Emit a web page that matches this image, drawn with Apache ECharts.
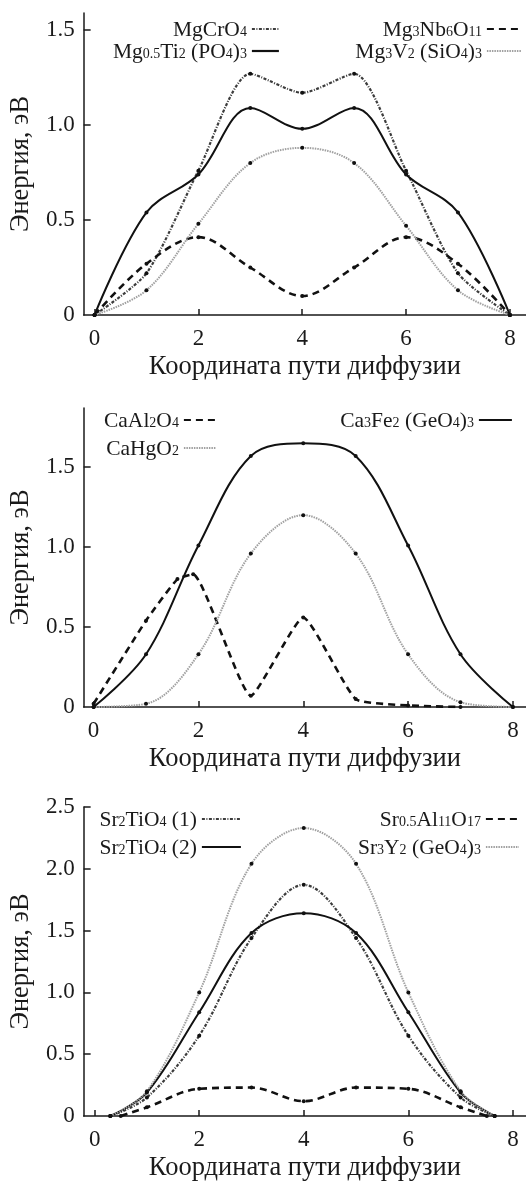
<!DOCTYPE html>
<html><head><meta charset="utf-8">
<script src="https://cdn.jsdelivr.net/npm/echarts@6/dist/echarts.min.js"></script>
<style>html,body{margin:0;padding:0;background:#fff}#c{width:526px;height:1183px}</style>
</head><body><div id="c"></div><script>
// ---- data ----
const xPath = [0, 1, 2, 3, 4, 5, 6, 7, 8];
const xTickLabels = [0, 2, 4, 6, 8];

// panel 1 (Mg)
const mgCrO4   = [0, 0.22, 0.76, 1.27, 1.17, 1.27, 0.76, 0.22, 0];
const mgTiPO4  = [0, 0.54, 0.74, 1.09, 0.98, 1.09, 0.74, 0.54, 0];
const mgNbO    = [0, 0.27, 0.41, 0.25, 0.10, 0.25, 0.41, 0.27, 0];
const mgVSiO4  = [0, 0.13, 0.48, 0.80, 0.88, 0.80, 0.47, 0.13, 0];
const yTicks1  = [0, 0.5, 1.0, 1.5];

// panel 2 (Ca)
const caFeGeO4 = [0, 0.33, 1.01, 1.57, 1.65, 1.57, 1.01, 0.33, 0];
const caHgO2   = [0, 0.02, 0.33, 0.96, 1.20, 0.96, 0.33, 0.03, 0];
const xCaAl    = [0, 1, 1.6, 1.9, 3, 4, 5, 6, 7];
const caAl2O4  = [0.02, 0.54, 0.80, 0.83, 0.07, 0.56, 0.05, 0.01, 0];
const yTicks2  = [0, 0.5, 1.0, 1.5];

// panel 3 (Sr)
const xSr      = [0.3, 1, 2, 3, 4, 5, 6, 7, 7.65];
const xSrAl    = [0.5, 1, 2, 3, 4, 5, 6, 7, 7.5];
const srTi1    = [0, 0.15, 0.65, 1.44, 1.87, 1.44, 0.65, 0.15, 0];
const srTi2    = [0, 0.19, 0.84, 1.48, 1.64, 1.48, 0.84, 0.19, 0];
const srAlO    = [0, 0.07, 0.22, 0.23, 0.12, 0.23, 0.22, 0.07, 0];
const srYGeO4  = [0, 0.20, 1.00, 2.04, 2.33, 2.04, 1.00, 0.20, 0];
const yTicks3  = [0, 0.5, 1.0, 1.5, 2.0, 2.5];

const xTitle = 'Координата пути диффузии';
const yTitle = 'Энергия, эВ';

// legend labels with subscripts (rich text)
const richNames = {
  'MgCrO4': '{t|MgCrO}{s|4}',
  'Mg0.5Ti2(PO4)3': '{t|Mg}{s|0.5}{t|Ti}{s|2}{t| (PO}{s|4}{t|)}{s|3}',
  'Mg3Nb6O11': '{t|Mg}{s|3}{t|Nb}{s|6}{t|O}{s|11}',
  'Mg3V2(SiO4)3': '{t|Mg}{s|3}{t|V}{s|2}{t| (SiO}{s|4}{t|)}{s|3}',
  'CaAl2O4': '{t|CaAl}{s|2}{t|O}{s|4}',
  'CaHgO2': '{t|CaHgO}{s|2}',
  'Ca3Fe2(GeO4)3': '{t|Ca}{s|3}{t|Fe}{s|2}{t| (GeO}{s|4}{t|)}{s|3}',
  'Sr2TiO4 (1)': '{t|Sr}{s|2}{t|TiO}{s|4}{t| (1)}',
  'Sr2TiO4 (2)': '{t|Sr}{s|2}{t|TiO}{s|4}{t| (2)}',
  'Sr0.5Al11O17': '{t|Sr}{s|0.5}{t|Al}{s|11}{t|O}{s|17}',
  'Sr3Y2(GeO4)3': '{t|Sr}{s|3}{t|Y}{s|2}{t| (GeO}{s|4}{t|)}{s|3}'
};

// ---- styles ----
const FONT = 'Liberation Serif';
const INK = '#1a1a1a';
const S_DOTDARK = {color: '#3c3c3c', width: 2.2, type: [3, 1.5, 1, 1.5]};
const S_SOLID   = {color: '#111', width: 2, type: 'solid'};
const S_DASH    = {color: '#111', width: 2.6, type: [7, 5]};
const S_LIGHT   = {color: '#a0a0a0', width: 2, type: [1.5, 1]};

function mk(name, idx, xs, ys, ls, sm) {
  return {
    type: 'line', name, xAxisIndex: idx, yAxisIndex: idx,
    data: xs.map((x, i) => [x, ys[i]]),
    smooth: sm === undefined ? 0.35 : sm, symbol: 'circle', symbolSize: 4,
    itemStyle: {color: '#111'}, lineStyle: ls, z: 3
  };
}

function xAx(idx, min, max) {
  return {
    type: 'value', gridIndex: idx, min, max,
    axisLine: {show: true, onZero: false, lineStyle: {color: INK, width: 1.5}},
    axisTick: {show: true, inside: true, length: 6, customValues: xTickLabels, lineStyle: {color: INK, width: 1.5}},
    axisLabel: {customValues: xTickLabels, fontSize: 23, fontFamily: FONT, color: INK, margin: 12},
    splitLine: {show: false},
    name: xTitle, nameLocation: 'middle', nameGap: 39,
    nameTextStyle: {fontSize: 26.5, fontFamily: FONT, color: INK}
  };
}
function yAx(idx, max, ticks) {
  return {
    type: 'value', gridIndex: idx, min: 0, max,
    axisLine: {show: true, onZero: false, lineStyle: {color: INK, width: 1.5}},
    axisTick: {show: true, inside: true, length: 7, customValues: ticks.filter(v => v > 0), lineStyle: {color: INK, width: 1.5}},
    axisLabel: {customValues: ticks, fontSize: 23, fontFamily: FONT, color: INK, margin: 9,
      formatter: v => v === 0 ? '0' : v.toFixed(1)},
    splitLine: {show: false},
    name: yTitle, nameLocation: 'middle', nameGap: 46, nameRotate: 90,
    nameTextStyle: {fontSize: 26.5, fontFamily: FONT, color: INK}
  };
}
function lg(data, right, top, itemWidth, itemGap) {
  return {
    data, orient: 'vertical', align: 'right', right, top, itemWidth, itemHeight: 12, itemGap,
    selectedMode: false, padding: 0,
    itemStyle: {opacity: 0},
    lineStyle: {width: 2.2},
    formatter: n => richNames[n] || n,
    textStyle: {
      color: INK, fontFamily: FONT,
      rich: {
        t: {fontSize: 21.5, fontFamily: FONT, color: INK, lineHeight: 20, verticalAlign: 'top'},
        s: {fontSize: 14, fontFamily: FONT, color: INK, lineHeight: 12, padding: [11, 0, 0, 0], verticalAlign: 'bottom'}
      }
    }
  };
}

const option = {
  animation: false,
  backgroundColor: '#fff',
  grid: [
    {left: 81, width: 445, top: 13, height: 302},
    {left: 81, width: 445, top: 408, height: 299},
    {left: 80, width: 446, top: 807, height: 310}
  ],
  xAxis: [xAx(0, -0.21, 8.31), xAx(1, -0.19, 8.25), xAx(2, -0.21, 8.25)],
  yAxis: [yAx(0, 1.59, yTicks1), yAx(1, 1.87, yTicks2), yAx(2, 2.5, yTicks3)],
  legend: [
    lg(['MgCrO4', 'Mg0.5Ti2(PO4)3'], 246, 14, 27, -5),
    lg(['Mg3Nb6O11', 'Mg3V2(SiO4)3'], 4, 14, 34, -5),
    lg(['CaAl2O4', 'CaHgO2'], 309, 405, 32, 1),
    lg(['Ca3Fe2(GeO4)3'], 13, 405, 33, 1),
    lg(['Sr2TiO4 (1)', 'Sr2TiO4 (2)'], 284, 804, 39, 1),
    lg(['Sr0.5Al11O17', 'Sr3Y2(GeO4)3'], 6, 804, 33, 1)
  ],
  series: [
    mk('MgCrO4', 0, xPath, mgCrO4, S_DOTDARK, 0.25),
    mk('Mg0.5Ti2(PO4)3', 0, xPath, mgTiPO4, S_SOLID),
    mk('Mg3Nb6O11', 0, xPath, mgNbO, S_DASH),
    mk('Mg3V2(SiO4)3', 0, xPath, mgVSiO4, S_LIGHT),
    mk('CaAl2O4', 1, xCaAl, caAl2O4, S_DASH, 0.15),
    mk('CaHgO2', 1, xPath, caHgO2, S_LIGHT),
    mk('Ca3Fe2(GeO4)3', 1, xPath, caFeGeO4, S_SOLID),
    mk('Sr2TiO4 (1)', 2, xSr, srTi1, S_DOTDARK),
    mk('Sr2TiO4 (2)', 2, xSr, srTi2, S_SOLID),
    mk('Sr0.5Al11O17', 2, xSrAl, srAlO, S_DASH),
    mk('Sr3Y2(GeO4)3', 2, xSr, srYGeO4, S_LIGHT)
  ]
};
const chart = echarts.init(document.getElementById('c'), null, {renderer: 'canvas'});
chart.setOption(option);
</script></body></html>
